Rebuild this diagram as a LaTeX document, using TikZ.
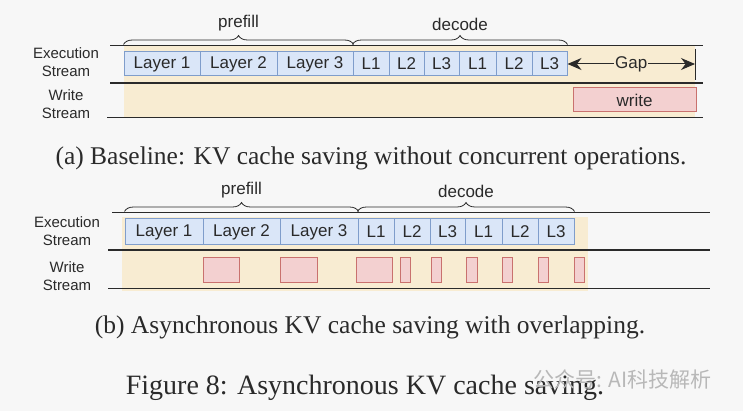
\documentclass[tikz,border=0pt]{standalone}
\usepackage{fontspec}
\setmainfont{Liberation Serif}
\setsansfont{Liberation Sans}
\newfontfamily\cjkfont{Noto Sans CJK SC}
\usetikzlibrary{decorations.pathreplacing,arrows.meta}

\definecolor{pagebg}{HTML}{F7F7F7}
\definecolor{layerfill}{HTML}{DAE6F8}
\definecolor{layerdraw}{HTML}{7F9DCB}
\definecolor{writefill}{HTML}{F3D0D0}
\definecolor{writedraw}{HTML}{C9716E}
\definecolor{idlefill}{HTML}{F8ECD2}
\definecolor{inkgray}{HTML}{2A2A2A}

\tikzset{
  layerbox/.style={draw=layerdraw, fill=layerfill, line width=1pt, inner sep=0pt,
    text=inkgray, font=\sffamily\fontsize{17}{17}\selectfont},
  writebox/.style={draw=writedraw, fill=writefill, line width=1pt, inner sep=0pt},
  streamline/.style={draw=inkgray, line width=1pt},
  busyline/.style={draw=inkgray, line width=1.6pt},
  streamlabel/.style={align=center, text=inkgray, font=\sffamily\fontsize{15}{18}\selectfont},
  phasebrace/.style={decorate, decoration={brace, amplitude=9pt}, draw=inkgray, line width=0.8pt},
  phaselabel/.style={text=inkgray, font=\sffamily\fontsize{17}{17}\selectfont},
  subcaption/.style={text=inkgray, font=\fontsize{25.5}{26}\selectfont},
}

\begin{document}
\begin{tikzpicture}[x=1pt, y=-1pt]
    \fill[pagebg] (0,0) rectangle (743,411);
    \useasboundingbox (0,0) rectangle (743,411);

    % (a) baseline
    \fill[idlefill] (124,46) rectangle (695,118);
    \draw[streamline] (110,46) -- (703,46);
    \draw[busyline] (110,83) -- (703,83);
    \draw[streamline] (107,118) -- (703,118);

    \node[streamlabel] (execa) at (66,62) {Execution\\Stream};
    \node[streamlabel] (writea) at (66,104) {Write\\Stream};

    \foreach \n/\t/\l/\r in {a1/Layer 1/124/200, a2/Layer 2/200/277, a3/Layer 3/277/353,
        a4/L1/353/389, a5/L2/389/424, a6/L3/424/459, a7/L1/459/496, a8/L2/496/532, a9/L3/532/567}
        \node[layerbox, minimum width={(\r-\l)*1pt}, minimum height=24pt] (\n) at ({(\l+\r)/2},64) {\t};

    \draw[phasebrace] ([yshift=7pt]a1.north west) -- ([yshift=7pt]a3.north east)
        node[phaselabel, midway, above=10pt] (prefilla) {prefill};
    \draw[phasebrace] ([yshift=7pt]a4.north west) -- ([yshift=7pt]a9.north east)
        node[phaselabel, midway, above=10pt] (decodea) {decode};

    \coordinate (gapend) at (695,64);
    \draw[inkgray, line width=1pt] (695,49) -- (695,80);
    \draw[inkgray, line width=1pt, {Stealth[length=14pt,width=12pt]}-{Stealth[length=14pt,width=12pt]}]
        (a9.east) -- (gapend) node[midway, fill=idlefill, inner sep=1pt, phaselabel] (gap) {Gap};

    \node[writebox, minimum width=123pt, minimum height=24pt, text=inkgray,
        font=\sffamily\fontsize{17}{17}\selectfont] (wa) at (634.5,100) {write};

    \node[subcaption] (capa) at (371,158) {(a) Baseline: KV cache saving without concurrent operations.};

    % (b) asynchronous
    \fill[idlefill] (122,217) rectangle (588,291);
    \draw[streamline] (112,213) -- (710,213);
    \draw[busyline] (108,250) -- (710,250);
    \draw[streamline] (108,288) -- (710,288);

    \node[streamlabel] (execb) at (67,231) {Execution\\Stream};
    \node[streamlabel] (writeb) at (67,276) {Write\\Stream};

    \foreach \n/\t/\l/\r in {b1/Layer 1/125/203, b2/Layer 2/203/280, b3/Layer 3/280/358,
        b4/L1/358/394, b5/L2/394/430, b6/L3/430/465, b7/L1/465/502, b8/L2/502/538, b9/L3/538/574}
        \node[layerbox, minimum width={(\r-\l)*1pt}, minimum height=26pt] (\n) at ({(\l+\r)/2},232) {\t};

    \draw[phasebrace] ([yshift=7pt]b1.north west) -- ([yshift=7pt]b3.north east)
        node[phaselabel, midway, above=10pt] (prefillb) {prefill};
    \draw[phasebrace] ([yshift=7pt]b4.north west) -- ([yshift=7pt]b9.north east)
        node[phaselabel, midway, above=10pt] (decodeb) {decode};

    \foreach \n/\l/\r in {w1/203/239, w2/280/317, w3/356/392, w4/400/410, w5/431/441,
        w6/466/477, w7/502/512, w8/538/548, w9/574/584}
        \node[writebox, minimum width={(\r-\l)*1pt}, minimum height=25pt] (\n) at ({(\l+\r)/2},270) {};

    \node[subcaption] (capb) at (370,327) {(b) Asynchronous KV cache saving with overlapping.};

    \node[text=inkgray, font=\fontsize{28}{28}\selectfont] (figcap) at (365,388) {Figure 8: Asynchronous KV cache saving.};
    \node[text=black!28, font=\cjkfont\fontsize{21}{21}\selectfont, anchor=west] (mark) at (530,379) {公众号: AI科技解析};

\end{tikzpicture}
\end{document}
